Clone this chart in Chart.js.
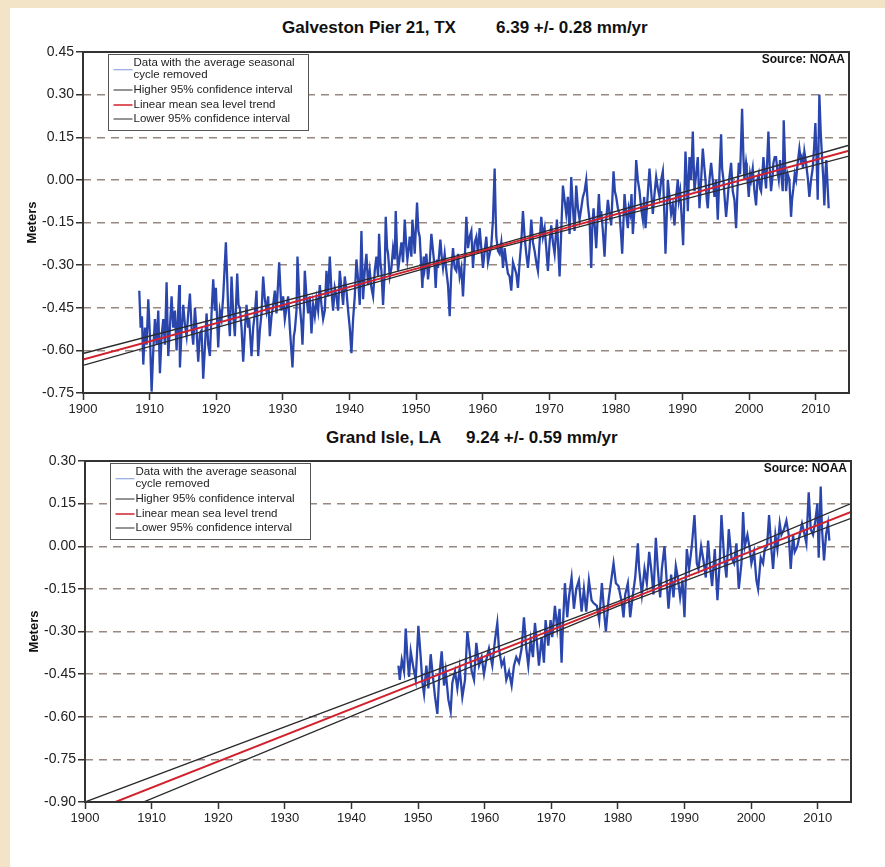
<!DOCTYPE html>
<html>
<head>
<meta charset="utf-8">
<title>Mean sea level trends</title>
<script src="https://cdn.jsdelivr.net/npm/chart.js@4.4.1/dist/chart.umd.min.js"></script>
<style>
  body { margin: 0; width: 885px; height: 867px; background: #f4e4c7; position: relative; overflow: hidden;
         font-family: "Liberation Sans", Arial, sans-serif; }
  #panel { position: absolute; left: 10px; top: 8px; right: 0; bottom: 0; background: #fff; }
  .title { position: absolute; font-weight: bold; font-size: 17px; line-height: 20px; color: #111; white-space: nowrap; }
  canvas { position: absolute; }
</style>
</head>
<body>
<div id="panel"></div>
<div class="title" style="left:282px;top:18px">Galveston Pier 21, TX</div>
<div class="title" style="left:496px;top:18px">6.39 +/- 0.28 mm/yr</div>
<div class="title" style="left:326px;top:428px">Grand Isle, LA</div>
<div class="title" style="left:466px;top:428px">9.24 +/- 0.59 mm/yr</div>
<canvas id="galveston" width="885" height="420" style="left:0;top:0"></canvas>
<canvas id="grandIsle" width="885" height="420" style="left:2px;top:409px"></canvas>
<script>
// Galveston Pier 21 monthly mean sea level, seasonal cycle removed (m)
const galvestonYears = [
  1908.45,1908.65,1908.85,1909.05,1909.3,1909.55,1909.8,1910.05,1910.3,1910.55,1910.8,
  1911.05,1911.3,1911.55,1911.8,1912.05,1912.3,1912.55,1912.8,1913.05,1913.3,1913.55,1913.8,
  1914.05,1914.45,1914.55,1914.8,1915.05,1915.3,1915.55,1915.8,1916.05,1916.3,1916.55,1916.8,
  1917.05,1917.3,1917.55,1917.8,1918.05,1918.3,1918.55,1918.8,1919.05,1919.3,1919.55,1919.8,1919.95,
  1920.3,1920.55,1920.8,1921.05,1921.45,1921.65,1921.8,1922.05,1922.3,1922.55,1922.8,
  1923.15,1923.35,1923.55,1923.8,1924.05,1924.3,1924.55,1924.8,1924.95,1925.3,1925.55,1925.8,
  1926.05,1926.3,1926.55,1926.8,1927.05,1927.3,1927.55,1927.8,1928.05,1928.3,1928.55,1928.8,
  1929.05,1929.45,1929.65,1929.8,1930.05,1930.3,1930.55,1930.8,1931.05,1931.45,1931.65,1931.8,
  1932.05,1932.2,1932.4,1932.55,1932.8,1932.95,1933.15,1933.3,1933.55,1933.8,1934.05,1934.3,1934.55,1934.8,
  1935.05,1935.3,1935.55,1935.8,1936.05,1936.3,1936.55,1936.8,1937.05,1937.3,1937.55,1937.8,
  1938.05,1938.3,1938.55,1938.8,1939.05,1939.3,1939.55,1939.8,1940.05,1940.3,1940.55,1940.8,
  1941.05,1941.3,1941.55,1941.8,1942.05,1942.3,1942.55,1942.8,1943.05,1943.3,1943.55,1943.8,
  1944.05,1944.3,1944.45,1944.65,1944.8,1945.05,1945.3,1945.45,1945.65,1945.8,1946.05,1946.3,1946.55,1946.8,1946.95,
  1947.15,1947.3,1947.55,1947.8,1948.05,1948.3,1948.55,1948.7,1948.9,1949.05,1949.3,1949.45,1949.65,1949.8,
  1950.15,1950.35,1950.55,1950.75,1950.95,1951.15,1951.3,1951.55,1951.8,1952.05,1952.3,1952.55,1952.8,1952.95,
  1953.15,1953.3,1953.65,1953.85,1954.05,1954.3,1954.55,1954.8,1955.05,1955.3,1955.55,1955.8,
  1956.05,1956.3,1956.55,1956.8,1957.05,1957.3,1957.55,1957.8,1958.05,1958.3,1958.55,1958.8,
  1959.05,1959.3,1959.55,1959.8,1960.05,1960.3,1960.55,1960.8,1961.05,1961.3,1961.55,1961.8,1961.95,
  1962.05,1962.3,1962.55,1962.8,1963.05,1963.3,1963.55,1963.8,1964.05,1964.3,1964.55,1964.8,
  1965.05,1965.3,1965.55,1965.8,1966.05,1966.3,1966.55,1966.8,1967.05,1967.3,1967.55,1967.8,
  1968.05,1968.3,1968.55,1968.8,1969.05,1969.3,1969.55,1969.8,1970.05,1970.3,1970.55,1970.8,
  1971.15,1971.35,1971.55,1971.8,1972.05,1972.3,1972.55,1972.8,1973.05,1973.3,1973.55,1973.8,
  1974.05,1974.3,1974.55,1974.8,1975.05,1975.3,1975.55,1975.8,1976.05,1976.3,1976.45,1976.65,1976.85,
  1977.05,1977.25,1977.45,1977.65,1977.8,1978.05,1978.3,1978.55,1978.8,1979.05,1979.3,1979.65,1979.85,
  1980.05,1980.3,1980.55,1980.8,1980.95,1981.15,1981.3,1981.55,1981.8,1981.95,1982.15,1982.35,1982.55,1982.8,
  1983.05,1983.3,1983.55,1983.8,1984.05,1984.25,1984.45,1984.65,1984.85,1985.05,1985.3,1985.55,1985.8,
  1986.05,1986.3,1986.55,1986.8,1987.05,1987.25,1987.45,1987.65,1987.8,1988.05,1988.3,1988.55,1988.8,
  1989.05,1989.3,1989.45,1989.65,1989.85,1990.1,1990.3,1990.45,1990.65,1990.8,1991.05,1991.3,1991.55,1991.8,
  1992.05,1992.3,1992.55,1992.8,1993.05,1993.3,1993.45,1993.65,1993.8,1994.05,1994.3,1994.55,1994.8,
  1995.05,1995.3,1995.55,1995.8,1995.95,1996.15,1996.35,1996.55,1996.8,1997.05,1997.3,1997.55,1997.8,
  1998.05,1998.25,1998.45,1998.65,1998.95,1999.15,1999.3,1999.55,1999.65,1999.95,2000.15,2000.3,2000.55,2000.8,
  2001.05,2001.25,2001.45,2001.65,2001.8,2002.05,2002.15,2002.35,2002.55,2002.9,2003.1,2003.3,2003.55,2003.65,2003.85,
  2004.05,2004.25,2004.45,2004.65,2004.8,2005.05,2005.2,2005.4,2005.55,2005.8,2006.05,2006.3,2006.45,2006.65,2006.85,
  2007.05,2007.3,2007.55,2007.75,2007.9,2008.1,2008.3,2008.55,2008.8,2009.05,2009.3,2009.55,2009.75,2009.95,
  2010.15,2010.3,2010.55,2010.75,2010.95,2011.15,2011.3,2011.5,2011.6,2011.95
];
const galvestonLevels = [
  -0.39,-0.52,-0.48,-0.65,-0.52,-0.58,-0.42,-0.55,-0.745,-0.60,-0.49,
  -0.58,-0.46,-0.68,-0.55,-0.49,-0.58,-0.36,-0.62,-0.52,-0.41,-0.52,-0.46,
  -0.60,-0.37,-0.66,-0.53,-0.44,-0.51,-0.55,-0.47,-0.40,-0.52,-0.58,-0.45,
  -0.53,-0.64,-0.54,-0.53,-0.70,-0.59,-0.47,-0.58,-0.62,-0.47,-0.35,-0.46,-0.38,
  -0.59,-0.46,-0.49,-0.41,-0.22,-0.35,-0.46,-0.55,-0.34,-0.47,-0.55,
  -0.33,-0.44,-0.45,-0.52,-0.64,-0.53,-0.44,-0.52,-0.49,-0.62,-0.52,-0.47,
  -0.39,-0.62,-0.53,-0.47,-0.34,-0.42,-0.46,-0.41,-0.55,-0.48,-0.44,-0.39,
  -0.47,-0.29,-0.39,-0.46,-0.41,-0.49,-0.45,-0.41,-0.52,-0.66,-0.55,-0.53,
  -0.46,-0.27,-0.38,-0.44,-0.51,-0.58,-0.46,-0.32,-0.41,-0.47,-0.41,-0.54,-0.44,-0.48,
  -0.42,-0.46,-0.37,-0.44,-0.49,-0.46,-0.32,-0.41,-0.27,-0.39,-0.46,-0.38,
  -0.41,-0.46,-0.32,-0.38,-0.44,-0.34,-0.39,-0.46,-0.52,-0.61,-0.49,-0.41,
  -0.28,-0.35,-0.44,-0.18,-0.42,-0.32,-0.26,-0.37,-0.32,-0.38,-0.41,-0.32,
  -0.27,-0.34,-0.19,-0.29,-0.32,-0.44,-0.32,-0.13,-0.24,-0.26,-0.34,-0.31,-0.24,-0.28,-0.11,
  -0.25,-0.32,-0.27,-0.22,-0.29,-0.14,-0.24,-0.28,-0.24,-0.20,-0.27,-0.14,-0.20,-0.26,
  -0.08,-0.18,-0.20,-0.29,-0.38,-0.27,-0.31,-0.26,-0.35,-0.29,-0.19,-0.25,-0.31,-0.38,
  -0.28,-0.31,-0.21,-0.27,-0.31,-0.26,-0.32,-0.37,-0.48,-0.32,-0.24,-0.31,
  -0.32,-0.26,-0.34,-0.31,-0.41,-0.29,-0.13,-0.24,-0.20,-0.18,-0.31,-0.22,
  -0.20,-0.26,-0.17,-0.24,-0.31,-0.25,-0.20,-0.29,-0.26,-0.23,-0.14,0.04,-0.12,
  -0.20,-0.25,-0.26,-0.22,-0.31,-0.24,-0.29,-0.33,-0.34,-0.39,-0.29,-0.31,
  -0.33,-0.38,-0.29,-0.22,-0.11,-0.20,-0.26,-0.31,-0.24,-0.14,-0.22,-0.25,
  -0.29,-0.32,-0.22,-0.13,-0.20,-0.17,-0.24,-0.32,-0.22,-0.16,-0.22,-0.26,
  -0.14,-0.24,-0.34,-0.18,-0.02,-0.07,-0.12,-0.06,-0.19,0.01,-0.10,-0.18,
  -0.02,-0.10,-0.14,-0.10,-0.06,-0.04,0.00,-0.09,-0.14,-0.31,-0.17,-0.10,-0.17,
  -0.24,-0.14,-0.05,-0.14,-0.11,-0.18,-0.27,-0.14,-0.07,-0.12,-0.16,0.03,-0.04,
  -0.06,-0.10,-0.12,-0.20,-0.26,-0.14,-0.05,-0.12,-0.17,-0.10,-0.12,-0.05,-0.19,-0.10,
  0.07,0.00,-0.04,-0.10,-0.14,-0.06,-0.17,-0.10,-0.03,0.04,-0.04,-0.12,-0.05,
  0.01,-0.03,-0.06,0.00,0.03,-0.10,-0.26,-0.12,0.00,-0.06,-0.12,-0.09,-0.16,
  -0.06,0.00,-0.07,-0.04,-0.12,-0.23,-0.04,0.10,0.00,-0.11,0.08,0.00,0.17,-0.04,
  0.02,0.08,-0.10,0.00,0.11,0.04,0.00,-0.07,-0.10,0.00,0.06,0.00,-0.06,
  0.00,-0.14,0.02,0.16,0.04,0.00,-0.07,-0.13,-0.06,0.01,0.06,-0.04,-0.07,
  -0.17,-0.04,0.06,0.02,0.25,0.08,0.00,0.06,0.04,-0.06,0.02,0.00,0.04,-0.04,
  -0.09,0.00,0.02,-0.03,-0.04,0.04,0.08,0.02,-0.03,0.17,0.04,-0.04,0.02,0.06,0.08,
  0.08,0.03,0.00,0.07,0.03,-0.04,0.21,0.06,-0.04,0.02,0.00,-0.13,-0.07,-0.03,0.02,
  0.00,0.06,0.11,0.07,0.08,0.04,0.10,0.06,0.01,-0.06,0.00,0.04,0.11,0.20,
  0.06,-0.07,0.30,0.17,0.08,0.00,-0.09,0.04,0.07,-0.10
];

// Galveston linear trend and its 95% confidence bounds (m)
const galvestonTrendYears = [1900, 1960, 2015];
const galvestonUpper = [-0.611, -0.244, 0.122];
const galvestonTrend = [-0.632, -0.249, 0.103];
const galvestonLower = [-0.653, -0.254, 0.084];

// Grand Isle monthly mean sea level, seasonal cycle removed (m)
const grandIsleYears = [
  1947.06,1947.26,1947.56,1947.9,1948.15,1948.4,1948.65,1948.9,1949.25,1949.65,
  1950.05,1950.4,1950.65,1950.9,1951.25,1951.55,1951.9,1952.15,1952.55,1952.9,
  1953.15,1953.55,1953.9,1954.15,1954.55,1954.9,1955.15,1955.55,1955.9,
  1956.25,1956.65,1957.05,1957.4,1957.65,1958.05,1958.4,1958.75,
  1959.15,1959.55,1959.9,1960.25,1960.65,1961.15,1961.55,1961.9,
  1962.15,1962.55,1962.9,1963.25,1963.65,1964.05,1964.4,1964.75,
  1965.15,1965.55,1965.9,1966.25,1966.55,1966.9,1967.25,1967.55,1967.9,
  1968.15,1968.55,1968.9,1969.15,1969.55,1969.9,1970.15,1970.55,1970.9,
  1971.25,1971.55,1971.75,1972.05,1972.4,1972.65,1973.05,1973.4,1973.75,
  1974.15,1974.55,1974.9,1975.25,1975.65,1976.05,1976.35,1976.85,
  1977.2,1977.6,1978.0,1978.2,1978.6,1979.0,1979.35,1979.7,
  1980.1,1980.6,1980.85,1981.1,1981.5,1981.85,1982.2,1982.6,
  1983.0,1983.2,1983.6,1984.0,1984.35,1984.7,1985.0,1985.35,1985.7,
  1986.0,1986.35,1986.6,1987.0,1987.35,1987.6,1988.0,1988.35,1988.7,
  1989.0,1989.35,1989.7,1990.0,1990.35,1990.7,1991.1,1991.5,1991.85,
  1992.1,1992.5,1992.85,1993.2,1993.55,1993.8,1994.15,1994.55,1994.95,
  1995.3,1995.55,1995.95,1996.3,1996.65,1997.05,1997.45,1997.8,
  1998.15,1998.55,1998.8,1999.05,1999.45,1999.8,2000.05,2000.45,2000.8,
  2001.05,2001.45,2001.8,2002.05,2002.4,2002.7,2003.05,2003.3,2003.65,2003.95,
  2004.3,2004.55,2004.95,2005.3,2005.65,2005.95,2006.3,2006.55,2006.95,
  2007.3,2007.65,2007.95,2008.3,2008.65,2008.95,2009.3,2009.65,2009.95,
  2010.15,2010.45,2010.65,2010.95,2011.25,2011.55,2011.75
];
const grandIsleLevels = [
  -0.42,-0.47,-0.40,-0.44,-0.29,-0.39,-0.46,-0.37,-0.42,-0.47,
  -0.28,-0.39,-0.48,-0.52,-0.42,-0.50,-0.38,-0.44,-0.53,-0.59,
  -0.47,-0.37,-0.49,-0.44,-0.54,-0.58,-0.48,-0.44,-0.50,
  -0.43,-0.53,-0.47,-0.30,-0.35,-0.44,-0.47,-0.34,
  -0.42,-0.39,-0.45,-0.40,-0.36,-0.42,-0.33,-0.27,
  -0.36,-0.42,-0.40,-0.47,-0.44,-0.49,-0.42,-0.39,
  -0.41,-0.36,-0.25,-0.36,-0.42,-0.33,-0.39,-0.27,-0.35,
  -0.42,-0.32,-0.41,-0.26,-0.35,-0.26,-0.32,-0.21,-0.29,
  -0.22,-0.41,-0.28,-0.13,-0.25,-0.18,-0.11,-0.22,-0.15,
  -0.12,-0.23,-0.15,-0.23,-0.12,-0.19,-0.20,-0.21,
  -0.26,-0.13,-0.25,-0.30,-0.19,-0.12,-0.06,-0.13,
  -0.14,-0.20,-0.25,-0.17,-0.13,-0.25,-0.18,-0.11,
  0.01,-0.08,-0.17,-0.08,-0.13,-0.02,-0.08,-0.17,0.03,
  -0.08,-0.18,-0.08,0.00,-0.13,-0.22,-0.10,-0.18,-0.07,
  -0.11,-0.18,-0.12,-0.25,-0.01,-0.08,0.00,0.11,-0.06,
  -0.08,0.00,-0.05,-0.11,0.02,-0.06,-0.14,-0.01,-0.19,
  -0.05,0.11,-0.04,-0.11,0.06,-0.04,-0.06,0.01,
  -0.15,-0.06,0.12,0.00,0.04,-0.01,-0.06,-0.02,-0.12,
  -0.15,-0.04,-0.06,-0.01,0.00,0.11,-0.01,-0.08,0.04,-0.01,
  0.08,0.04,0.06,0.09,0.04,-0.08,0.04,-0.02,0.00,
  0.04,0.08,0.05,0.01,0.19,0.06,0.04,0.09,0.15,
  -0.04,0.21,0.06,-0.05,0.04,0.08,0.02
];

// Grand Isle linear trend and its 95% confidence bounds (m)
const grandIsleTrendYears = [1900, 1980, 2015];
const grandIsleUpper = [-0.900, -0.195, 0.150];
const grandIsleTrend = [-0.942, -0.203, 0.121];
const grandIsleLower = [-0.985, -0.211, 0.098];

const legendLabels = [
  ["Data with the average seasonal", "cycle removed"],
  ["Higher 95% confidence interval"],
  ["Linear mean sea level trend"],
  ["Lower 95% confidence interval"]
];

const FONT = '"Liberation Sans", Arial, sans-serif';
Chart.defaults.font.family = FONT;
Chart.defaults.color = '#222';

// black box round the plot area
const frame = {
  id: 'frame',
  afterDraw(chart) {
    const { ctx, chartArea: a } = chart;
    ctx.save();
    ctx.strokeStyle = '#333';
    ctx.lineWidth = 2;
    ctx.strokeRect(a.left, a.top, a.right - a.left, a.bottom - a.top);
    ctx.restore();
  }
};

const sourceNote = {
  id: 'sourceNote',
  afterDraw(chart) {
    const { ctx, chartArea: a } = chart;
    ctx.save();
    ctx.font = 'bold 12px ' + FONT;
    ctx.fillStyle = '#111';
    ctx.textAlign = 'right';
    ctx.textBaseline = 'middle';
    ctx.fillText('Source: NOAA', a.right - 4, a.top + 8);
    ctx.restore();
  }
};

// boxed legend in the upper left corner of the plot
const boxLegend = {
  id: 'boxLegend',
  afterDraw(chart) {
    const { ctx, chartArea: a } = chart;
    const x = Math.round(a.left + 25) + 0.5, y = Math.round(a.top + 2) + 0.5;
    const rows = [[8, 20.5], [35.5], [50.5], [64.5]];
    ctx.save();
    ctx.fillStyle = '#fff';
    ctx.fillRect(x, y, 200, 76);
    ctx.strokeStyle = '#555';
    ctx.lineWidth = 1;
    ctx.strokeRect(x, y, 200, 76);
    ctx.font = '11.5px ' + FONT;
    ctx.textBaseline = 'middle';
    chart.data.datasets.forEach((ds, i) => {
      const r = rows[i];
      const ly = y + (r[0] + r[r.length - 1]) / 2 + (r.length > 1 ? 1 : 0);
      ctx.strokeStyle = ds.legendColor || ds.borderColor;
      ctx.lineWidth = ds.legendWidth || 1;
      ctx.beginPath();
      ctx.moveTo(x + 5, ly);
      ctx.lineTo(x + 24, ly);
      ctx.stroke();
      ctx.fillStyle = '#222';
      legendLabels[i].forEach((t, j) => ctx.fillText(t, x + 25, y + r[j]));
    });
    ctx.restore();
  }
};

const points = (xs, ys) => xs.map((x, i) => ({ x, y: ys[i] }));

function seaLevelChart(id, years, levels, trendYears, upper, trend, lower, yMin, yMax) {
  return new Chart(id, {
    type: 'line',
    data: {
      datasets: [
        { label: legendLabels[0].join(' '), data: points(years, levels), borderColor: '#2a46ad',
          borderWidth: 2.3, order: 3, legendColor: '#7d97d8' },
        { label: legendLabels[1][0], data: points(trendYears, upper), borderColor: '#2a2a2a', borderWidth: 1.3, order: 1 },
        { label: legendLabels[2][0], data: points(trendYears, trend), borderColor: '#d2202c', borderWidth: 2, order: 0, legendWidth: 1.5 },
        { label: legendLabels[3][0], data: points(trendYears, lower), borderColor: '#2a2a2a', borderWidth: 1.3, order: 1 }
      ]
    },
    options: {
      responsive: false,
      animation: false,
      events: [],
      layout: { padding: { left: 0, top: 52, right: 36, bottom: 0 } },
      elements: { point: { radius: 0 }, line: { tension: 0 } },
      plugins: { legend: { display: false }, tooltip: { enabled: false } },
      scales: {
        x: {
          type: 'linear', min: 1900, max: 2015,
          afterFit: s => { s.height = 27; },
          border: { display: false },
          grid: { drawOnChartArea: false, tickLength: 7, tickColor: '#333', tickWidth: 1.5 },
          ticks: { stepSize: 10, includeBounds: false, padding: 2, maxRotation: 0,
                   font: { size: 13 }, color: '#222', callback: v => String(v) }
        },
        y: {
          min: yMin, max: yMax,
          afterFit: s => { s.width = 83; },
          // dash pattern of the horizontal grid lines
          border: { display: false, dash: [8, 6] },
          grid: { color: '#978880', lineWidth: 1.5, tickBorderDash: [],
                  tickLength: 7, tickColor: '#333', tickWidth: 1.5 },
          ticks: { stepSize: 0.15, padding: 2, font: { size: 14 }, color: '#222',
                   callback: v => (Math.abs(v) < 1e-9 ? 0 : v).toFixed(2) },
          title: { display: true, text: 'Meters', color: '#111', padding: { top: 25 },
                   font: { size: 13, weight: 'bold' } }
        }
      }
    },
    plugins: [frame, sourceNote, boxLegend]
  });
}

seaLevelChart('galveston', galvestonYears, galvestonLevels,
  galvestonTrendYears, galvestonUpper, galvestonTrend, galvestonLower, -0.75, 0.45);
seaLevelChart('grandIsle', grandIsleYears, grandIsleLevels,
  grandIsleTrendYears, grandIsleUpper, grandIsleTrend, grandIsleLower, -0.90, 0.30);
</script>
</body>
</html>
